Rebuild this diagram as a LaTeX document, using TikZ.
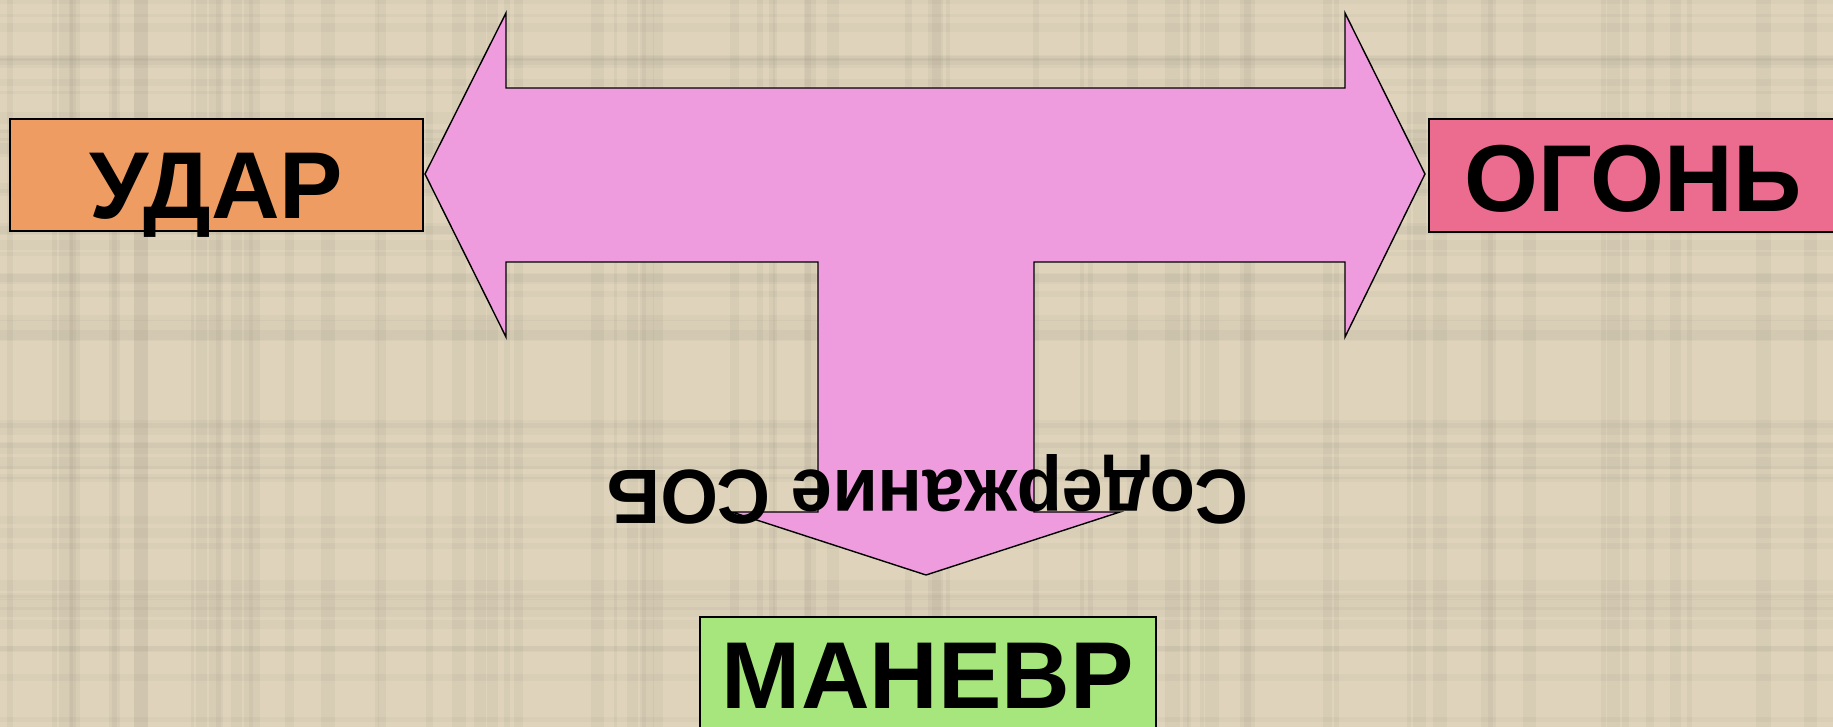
\documentclass[tikz,border=0pt]{standalone}
\usepackage{fontspec}
\setmainfont{Liberation Sans}
\definecolor{bgtan}{HTML}{DFD4BB}
\definecolor{arrowpink}{HTML}{EF9CDF}
\definecolor{udarfill}{HTML}{EE9C62}
\definecolor{ogonfill}{HTML}{EC6C90}
\definecolor{manevrfill}{HTML}{A6E67C}
\begin{document}
\begin{tikzpicture}[x=0.5pt,y=-0.5pt,
  labelbox/.style={draw=black, line width=0.8pt, inner sep=0pt, font=\fontsize{47.5}{50}\selectfont\bfseries, align=center},
  bigarrow/.style={draw=black, line width=0.7pt, fill=arrowpink, line join=miter}]
\useasboundingbox (0,0) rectangle (1833,727);
\clip (0,0) rectangle (1833,727);
\fill[bgtan] (0,0) rectangle (1833,727);
% texture
\pgfmathsetseed{7}
\foreach \i in {1,...,70}{
  \pgfmathsetmacro{\xx}{rnd*1833}
  \pgfmathsetmacro{\ww}{3+rnd*12}
  \fill[black!45!bgtan, opacity=0.07] (\xx,0) rectangle ++(\ww,727);
}
\foreach \i in {1,...,50}{
  \pgfmathsetmacro{\yy}{rnd*727}
  \pgfmathsetmacro{\hh}{3+rnd*9}
  \fill[black!45!bgtan, opacity=0.06] (0,\yy) rectangle ++(1833,\hh);
}
% the T-shaped arrow
\draw[bigarrow] (425,174) -- (506,13) -- (506,88) -- (1345,88) -- (1345,13) -- (1425,174)
  -- (1345,337) -- (1345,262) -- (1034,262) -- (1034,512) -- (1120,512) -- (926,575)
  -- (732,512) -- (818,512) -- (818,262) -- (506,262) -- (506,337) -- cycle;
% boxes
\node[labelbox, fill=udarfill, minimum width=206.5pt, text height=50pt, text depth=6pt, anchor=north west] (udar) at (9,118) {УДАР};
\node[labelbox, fill=ogonfill, minimum width=204pt, text height=46.5pt, text depth=10pt, anchor=north west] (ogon) at (1428,118) {ОГОНЬ};
\node[labelbox, fill=manevrfill, minimum width=228pt, text height=46pt, text depth=30pt, anchor=north west] (manevr) at (699,616) {МАНЕВР};
% rotated label
\node[rotate=180, anchor=base, inner sep=0pt, font=\fontsize{38.5}{40}\selectfont\bfseries, xscale=0.965] (sod) at (928,471) {Содержание СОБ};
\end{tikzpicture}
\end{document}
